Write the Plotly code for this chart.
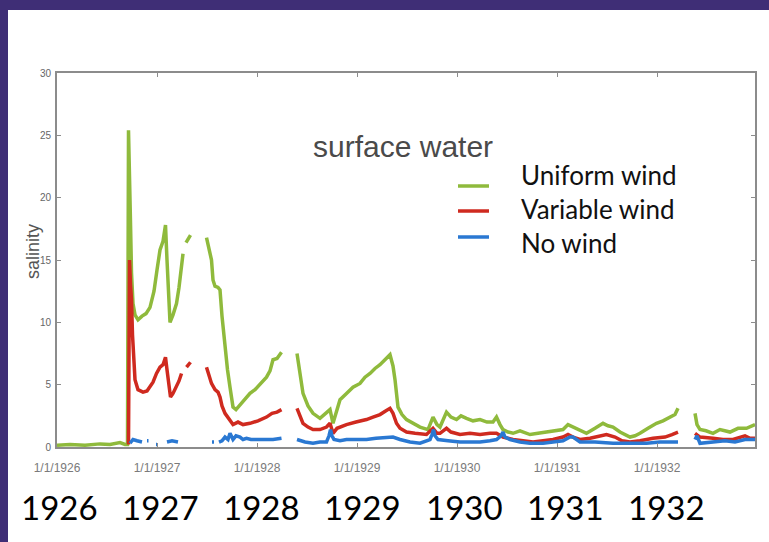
import plotly.graph_objects as go

# ---------------- data (x in decimal years, y = salinity) ----------------
uniform_x = [1926.00, 1926.13, 1926.28, 1926.43, 1926.53, 1926.63, 1926.68, 1926.705,
             1926.715, 1926.725, 1926.735, 1926.745, 1926.76, 1926.78, 1926.81, 1926.85,
             1926.89, 1926.93, 1926.97, 1927.00, 1927.03, 1927.06, 1927.085, 1927.10,
             1927.11, 1927.13, 1927.16, 1927.195, 1927.22, 1927.245, 1927.26, None,
             1927.29, 1927.335, None,
             1927.495, 1927.52, 1927.545, 1927.56, 1927.58, 1927.61, 1927.63, 1927.65,
             1927.68, 1927.705, 1927.73, 1927.76, 1927.79, 1927.83, 1927.88, 1927.93,
             1927.98, 1928.03, 1928.095, 1928.13, 1928.16, 1928.20, 1928.245, None,
             1928.40, 1928.43, 1928.46, 1928.51, 1928.56, 1928.63, 1928.695, 1928.73,
             1928.76, 1928.80, 1928.83, 1928.895, 1928.96, 1929.03, 1929.08, 1929.13,
             1929.18, 1929.23, 1929.295, 1929.33, 1929.36, 1929.38, 1929.41, 1929.45,
             1929.495, 1929.56, 1929.63, 1929.71, 1929.76, 1929.80, 1929.83, 1929.895,
             1929.94, 1929.995, 1930.04, 1930.095, 1930.16, 1930.23, 1930.30, 1930.36,
             1930.395, 1930.43, 1930.46, 1930.51, 1930.56, 1930.63, 1930.73, 1930.81,
             1930.895, 1930.98, 1931.06, 1931.11, 1931.16, 1931.23, 1931.295, 1931.38,
             1931.46, 1931.51, 1931.56, 1931.63, 1931.73, 1931.78, 1931.83, 1931.91,
             1931.995, 1932.06, 1932.13, 1932.18, 1932.21, None,
             1932.38, 1932.40, 1932.43, 1932.49, 1932.56, 1932.63, 1932.73, 1932.81,
             1932.895, 1932.95, 1932.98]
uniform_y = [0.15, 0.2, 0.15, 0.25, 0.2, 0.35, 0.2, 0.2,
             25.4, 22.5, 18.0, 14.0, 11.5, 10.6, 10.2, 10.5,
             10.7, 11.2, 12.5, 14.2, 15.8, 16.5, 17.8, 15.0,
             12.8, 10.0, 10.6, 11.5, 12.8, 14.2, 15.5, None,
             16.4, 17.0, None,
             16.8, 16.0, 15.0, 13.4, 12.9, 12.8, 12.6, 10.5,
             8.0, 6.2, 4.8, 3.2, 3.0, 3.4, 3.8, 4.3,
             4.6, 5.0, 5.6, 6.1, 7.0, 7.1, 7.6, None,
             7.5, 5.8, 4.3, 3.3, 2.7, 2.3, 2.7, 3.0,
             1.9, 3.0, 3.8, 4.3, 4.8, 5.1, 5.6, 5.9,
             6.3, 6.6, 7.1, 7.4, 6.5, 5.4, 3.2, 2.6,
             2.2, 1.9, 1.6, 1.4, 2.4, 1.8, 1.6, 2.8,
             2.4, 2.2, 2.5, 2.3, 2.1, 2.2, 2.0, 2.0,
             2.4, 1.8, 1.4, 1.2, 1.1, 1.3, 1.0, 1.1,
             1.2, 1.3, 1.4, 1.8, 1.6, 1.3, 1.1, 1.5,
             1.9, 1.7, 1.6, 1.2, 0.8, 0.9, 1.1, 1.5,
             1.9, 2.1, 2.4, 2.6, 3.1, None,
             2.7, 1.8, 1.4, 1.3, 1.1, 1.4, 1.2, 1.5,
             1.5, 1.7, 1.8]

variable_x = [1926.715, 1926.725, 1926.735, 1926.745, 1926.755, 1926.765, 1926.78, 1926.81,
              1926.86, 1926.90, 1926.93, 1926.96, 1926.995, 1927.03, 1927.06, 1927.085,
              1927.10, 1927.11, 1927.135, 1927.16, 1927.195, 1927.22, 1927.245, None,
              1927.295, 1927.335, None,
              1927.495, 1927.52, 1927.545, 1927.58, 1927.61, 1927.63, 1927.65, 1927.68,
              1927.73, 1927.76, 1927.81, 1927.86, 1927.93, 1928.01, 1928.095, 1928.15,
              1928.20, 1928.245, None,
              1928.40, 1928.43, 1928.46, 1928.51, 1928.56, 1928.63, 1928.695, 1928.73,
              1928.76, 1928.80, 1928.895, 1928.99, 1929.095, 1929.16, 1929.23, 1929.29,
              1929.33, 1929.36, 1929.395, 1929.43, 1929.495, 1929.58, 1929.695, 1929.76,
              1929.80, 1929.83, 1929.895, 1929.94, 1930.03, 1930.13, 1930.23, 1930.33,
              1930.395, 1930.46, 1930.56, 1930.66, 1930.76, 1930.86, 1930.96, 1931.06,
              1931.11, 1931.16, 1931.23, 1931.33, 1931.43, 1931.495, 1931.58, 1931.65,
              1931.73, 1931.83, 1931.96, 1932.08, 1932.15, 1932.21, None,
              1932.38, 1932.43, 1932.56, 1932.66, 1932.76, 1932.88, 1932.93, 1932.98]
variable_y = [0.2, 15.0, 13.0, 11.8, 9.0, 7.5, 5.4, 4.6,
              4.4, 4.5, 4.8, 5.2, 5.9, 6.4, 6.6, 7.2,
              6.2, 5.4, 4.0, 4.3, 4.8, 5.3, 5.9, None,
              6.4, 6.8, None,
              6.4, 5.8, 5.1, 4.6, 4.4, 4.0, 3.3, 2.7,
              2.2, 1.8, 2.0, 1.8, 1.9, 2.1, 2.4, 2.7,
              2.8, 3.0, None,
              3.1, 2.4, 1.9, 1.6, 1.4, 1.4, 1.6, 1.9,
              1.1, 1.5, 1.8, 2.0, 2.2, 2.4, 2.6, 2.9,
              3.1, 2.7, 1.9, 1.5, 1.2, 1.1, 1.0, 1.5,
              1.1, 1.1, 1.5, 1.2, 1.0, 1.1, 1.0, 1.1,
              1.1, 0.8, 0.6, 0.5, 0.4, 0.5, 0.6, 0.8,
              1.0, 0.8, 0.6, 0.7, 0.9, 1.0, 0.8, 0.5,
              0.4, 0.5, 0.7, 0.8, 1.0, 1.2, None,
              1.1, 0.8, 0.7, 0.6, 0.6, 0.9, 0.7, 0.7]

nowind_x = [1926.73, 1926.76, 1926.80, 1926.83, 1926.85, None,
            1926.90, 1926.915, None,
            1926.99, 1927.00, None,
            1927.10, 1927.15, 1927.21, None,
            1927.55, 1927.57, None,
            1927.62, 1927.65, 1927.68, 1927.71, 1927.73, 1927.76, 1927.79, 1927.83,
            1927.86, 1927.895, 1927.94, 1927.995, 1928.04, 1928.095, 1928.16, 1928.245, None,
            1928.40, 1928.48, 1928.56, 1928.63, 1928.695, 1928.72, 1928.735, 1928.75,
            1928.77, 1928.83, 1928.895, 1928.99, 1929.095, 1929.19, 1929.295, 1929.36,
            1929.43, 1929.53, 1929.63, 1929.73, 1929.75, 1929.765, 1929.78, 1929.81,
            1929.91, 1930.03, 1930.13, 1930.23, 1930.33, 1930.395, 1930.44, 1930.46,
            1930.48, 1930.53, 1930.63, 1930.73, 1930.86, 1930.96, 1931.06, 1931.13,
            1931.16, 1931.23, 1931.38, 1931.56, 1931.73, 1931.895, 1932.03, 1932.21, None,
            1932.38, 1932.40, 1932.43, 1932.56, 1932.68, 1932.78, 1932.88, 1932.98]
nowind_y = [0.3, 0.6, 0.5, 0.4, 0.4, None,
            0.5, 0.5, None,
            0.2, 0.2, None,
            0.4, 0.5, 0.4, None,
            0.4, 0.4, None,
            0.4, 0.5, 0.8, 0.6, 1.1, 0.6, 0.9, 0.8,
            0.6, 0.7, 0.6, 0.6, 0.6, 0.6, 0.6, 0.7, None,
            0.6, 0.4, 0.3, 0.4, 0.4, 0.9, 1.4, 0.9,
            0.6, 0.5, 0.6, 0.6, 0.6, 0.7, 0.8, 0.8,
            0.6, 0.4, 0.3, 0.6, 1.0, 1.4, 0.9, 0.6,
            0.5, 0.4, 0.4, 0.4, 0.5, 0.6, 0.9, 1.2,
            0.8, 0.6, 0.4, 0.3, 0.3, 0.4, 0.5, 0.8,
            0.8, 0.4, 0.4, 0.3, 0.3, 0.3, 0.4, 0.4, None,
            0.6, 0.9, 0.3, 0.4, 0.5, 0.4, 0.6, 0.6]

year_ticks = [1926, 1927, 1928, 1929, 1930, 1931, 1932]
year_tick_labels = ["1/1/1926", "1/1/1927", "1/1/1928", "1/1/1929",
                    "1/1/1930", "1/1/1931", "1/1/1932"]
big_year_labels = ["1926", "1927", "1928", "1929", "1930", "1931", "1932"]
y_ticks = [0, 5, 10, 15, 20, 25, 30]

series_names = ["Uniform wind", "Variable wind", "No wind"]
series_colors = ["#8fba3c", "#cf2a1f", "#2a78d2"]

# ---------------- figure ----------------
W, H = 769, 542
ML, MR, MT, MB = 57, 14, 73, 95
PW, PH = W - ML - MR, H - MT - MB

fig = go.Figure()
for xs, ys, name, col in [
    (uniform_x, uniform_y, series_names[0], series_colors[0]),
    (variable_x, variable_y, series_names[1], series_colors[1]),
    (nowind_x, nowind_y, series_names[2], series_colors[2]),
]:
    fig.add_trace(go.Scatter(x=xs, y=ys, mode="lines", name=name,
                             line=dict(color=col, width=3.5),
                             connectgaps=False, showlegend=False))


def px_x(p):
    return (p - ML) / PW


def px_y(p):
    return (H - MB - p) / PH


axis_col = "#8c8c8c"
fig.update_xaxes(range=[1926, 1932.98], tickvals=year_ticks, ticktext=year_tick_labels,
                 showgrid=False, zeroline=False, showline=True, linecolor=axis_col,
                 linewidth=2, mirror="ticks", ticks="inside", ticklen=4,
                 tickcolor=axis_col, tickfont=dict(family="Liberation Sans", size=12, color="#7a7a7a"),
                 ticklabelstandoff=9)
fig.update_yaxes(range=[0, 30], tickvals=y_ticks, showgrid=False, zeroline=False,
                 showline=True, linecolor=axis_col, linewidth=2, mirror="ticks",
                 ticks="inside", ticklen=4, tickcolor=axis_col,
                 tickfont=dict(family="Liberation Sans", size=10, color="#666666"),
                 ticklabelstandoff=2)

shapes = [
    # purple frame strips
    dict(type="rect", xref="paper", yref="paper", x0=px_x(-5), x1=px_x(774),
         y0=px_y(10), y1=px_y(-5), fillcolor="#3f2e76", line=dict(width=0), layer="above"),
    dict(type="rect", xref="paper", yref="paper", x0=px_x(-5), x1=px_x(8),
         y0=px_y(547), y1=px_y(-5), fillcolor="#3f2e76", line=dict(width=0), layer="above"),
]
# legend line samples
for col, ly in zip(series_colors, [186, 211, 237]):
    shapes.append(dict(type="line", xref="paper", yref="paper", x0=px_x(458), x1=px_x(489),
                       y0=px_y(ly), y1=px_y(ly), line=dict(color=col, width=3.5)))

annotations = [
    dict(text="surface water", xref="paper", yref="paper", x=px_x(403), y=px_y(146),
         xanchor="center", yanchor="middle", showarrow=False,
         font=dict(family="Liberation Sans", size=30, color="#4a4a4a")),
    dict(text="salinity", xref="paper", yref="paper", x=px_x(33), y=px_y(252),
         xanchor="center", yanchor="middle", showarrow=False, textangle=-90,
         font=dict(family="Liberation Sans", size=18, color="#555555")),
]
for name, ty in zip(series_names, [175, 209, 243]):
    annotations.append(dict(text=name, xref="paper", yref="paper", x=px_x(519), y=px_y(ty),
                            xanchor="left", yanchor="middle", showarrow=False,
                            font=dict(family="Lato", size=26, color="#111111")))
for i, lab in enumerate(big_year_labels):
    annotations.append(dict(text=lab, xref="paper", yref="paper", x=px_x(59 + 101.3 * i),
                            y=px_y(507), xanchor="center", yanchor="middle", showarrow=False,
                            font=dict(family="Lato", size=33, color="#000000")))

fig.update_layout(width=W, height=H, margin=dict(l=ML, r=MR, t=MT, b=MB),
                  paper_bgcolor="white", plot_bgcolor="white",
                  shapes=shapes, annotations=annotations)

fig.write_html("out.html", config={"displayModeBar": False},
               post_script="document.body.style.margin='0';")
